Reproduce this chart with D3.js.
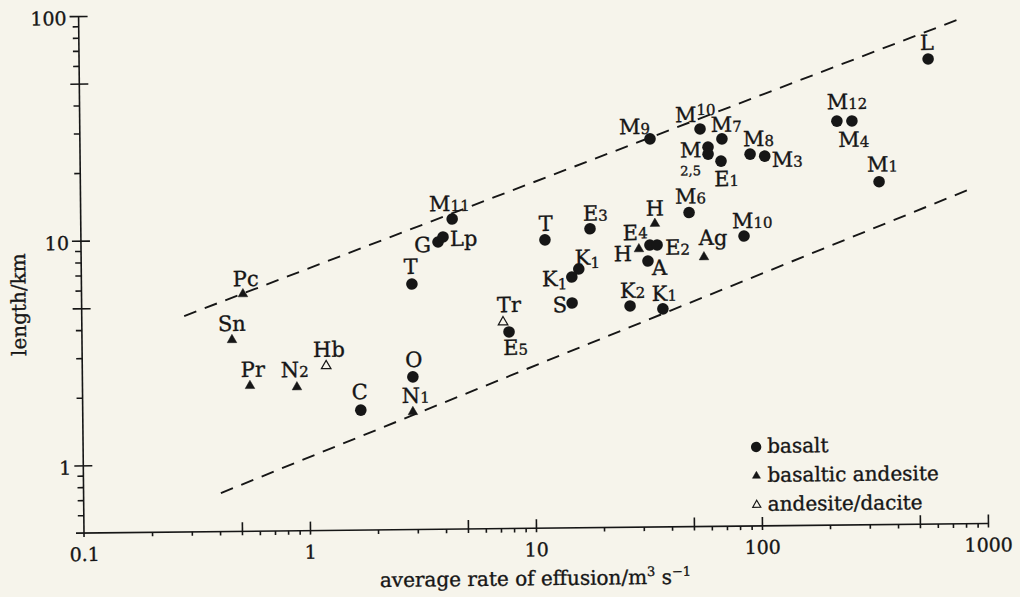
<!DOCTYPE html>
<html>
<head>
<meta charset="utf-8">
<script src="https://cdn.jsdelivr.net/npm/d3@7"></script>
<style>
  html, body { margin: 0; padding: 0; background: #f6f4eb; }
  svg text { font-family: "DejaVu Serif", serif; fill: #161616; stroke: #161616; stroke-width: 0.35px; }
</style>
</head>
<body>
<script>
// basalt flows (filled circles)
var basaltNames = ["L","M12","M4","M1","M10","M7","M9","M2,5","","E1","M8","M3","M6","M10","M11",
                   "G","Lp","T","T","E3","K1","K1","S","E4","E2","A","K2","K1","E5","O","C"];
var basaltRate = [571,224,261,342,55.5,69.3,33.3,60.1,60.1,68.5,92.2,107,49.2,85.9,4.40,
                  3.80,4.00,2.90,11.3,17.9,15.9,14.8,14.8,32.9,35.4,32.2,26.7,37.3,7.76,2.90,1.70];
var basaltLength = [58.8,31.4,31.4,16.8,29.4,26.5,26.7,24.4,22.7,21.1,22.6,22.1,12.5,9.77,12.0,
                    9.50,9.99,6.19,9.59,10.7,7.09,6.54,5.01,9.00,9.00,7.64,4.83,4.67,3.75,2.39,1.71];

// basaltic andesite (filled triangles)
var bAndesiteNames = ["Pc","Sn","Pr","N2","N1","H","H","Ag"];
var bAndesiteRate = [0.518,0.461,0.551,0.889,2.89,34.7,29.4,57.0];
var bAndesiteLength = [5.69,3.56,2.22,2.18,1.67,11.2,8.65,7.91];

// andesite / dacite (open triangles)
var andesiteNames = ["Hb","Tr"];
var andesiteRate = [1.20,7.31];
var andesiteLength = [2.70,4.15];

// dashed envelope lines [rate, length]
var upperLine = [[0.284,4.57],[811,89.1]];
var lowerLine = [[0.405,0.742],[890,15.6]];

var legendLabels = ["basalt","basaltic andesite","andesite/dacite"];
var xTickLabels = [0.1,1,10,100,1000];
var yTickLabels = [1,10,100];

// label placement: dx, dy from the mark, anchor, shift of the small digits
var basaltLabelPos = [
  [-1,-9,"middle",0],[-10,-12,"start",0],[-14,26,"start",0],[-12,-10,"start",0],
  [-25,-7,"start",-7],[-11,-7,"start",0],[-31,-5,"start",0],[-28,10,"start",0],
  [0,0,"start",0],[-7,25,"start",0],[-7,-8,"start",0],[7,11,"start",0],
  [-14,-9,"start",0],[-12,-8,"start",0],[-23,-8,"start",0],[-7,10,"end",0],
  [7,9,"start",0],[-1,-10,"middle",0],[1,-9,"middle",0],[-7,-8,"start",0],
  [-4,-4,"start",3],[-30,9,"start",3],[-5,9,"end",0],[-27,-5,"start",-2],
  [8,10,"start",0],[4,14,"start",0],[-10,-8,"start",0],[-11,-8,"start",0],
  [-6,23,"start",0],[1,-10,"middle",0],[-1,-11,"middle",0]
];
var bAndesiteLabelPos = [
  [-10,-8,"start",0],[-14,-9,"start",0],[-9,-9,"start",0],[-16,-10,"start",0],
  [-11,-9,"start",0],[0,-8,"middle",0],[-7,12,"end",0],[-5,-12,"start",0]
];
var andesiteLabelPos = [[-13,-9,"start",0],[-6,-10,"start",0]];

var ink = "#161616", paper = "#f6f4eb";

function rows(names, rate, len, pos, type) {
  return names.map(function(n,i) {
    return {name:n, rate:rate[i], len:len[i], pos:pos[i], type:type};
  });
}
var points = rows(basaltNames, basaltRate, basaltLength, basaltLabelPos, "basalt")
  .concat(rows(bAndesiteNames, bAndesiteRate, bAndesiteLength, bAndesiteLabelPos, "bandesite"))
  .concat(rows(andesiteNames, andesiteRate, andesiteLength, andesiteLabelPos, "andesite"));

var svg = d3.select("body").append("svg")
  .attr("width", 1020).attr("height", 597);
svg.append("rect").attr("width",1020).attr("height",597).attr("fill",paper);

// the printed page sits slightly skewed in the scan
var g = svg.append("g").attr("transform","rotate(-0.6,84,533)");

var x = d3.scaleLog().domain([0.1,1000]).range([84,988]);
var y = d3.scaleLog().domain([0.5,100]).range([533,16]);

function minorTicks(lo, hi) {
  var out = [];
  for (var d = lo; d < hi; d *= 10) {
    [2,3,4,6,7,8,9].forEach(function(k){ if (k*d < hi) out.push(k*d); });
  }
  return out;
}

// y axis
var yg = g.append("g").attr("transform","translate(84,0)");
yg.append("g").call(d3.axisLeft(y).tickValues(minorTicks(0.1,100).filter(function(d){return d>0.5;}))
    .tickSize(6).tickFormat(""))
  .call(function(a){ a.select(".domain").remove(); });
var yMajor = yg.append("g").call(d3.axisLeft(y).tickValues([1,5,10,50,100]).tickSize(9)
    .tickFormat(function(d){ return yTickLabels.indexOf(d) >= 0 ? d : ""; }));
yMajor.select(".domain").remove();
yMajor.selectAll("line").attr("x1", 9);
yMajor.selectAll("text").attr("x",-12).attr("dy","0.45em")
  .style("font-size","19px").style("font-family","DejaVu Serif");
yg.append("line").attr("x1",0).attr("x2",0).attr("y1",y(100)).attr("y2",537);

// x axis
var xg = g.append("g").attr("transform","translate(0,533)");
xg.append("g").call(d3.axisBottom(x).tickValues(minorTicks(0.1,1000).filter(function(d){
    return [5,50,500].indexOf(d) < 0; })).tickSize(4).tickFormat(""))
  .call(function(a){ a.select(".domain").remove(); });
var xMajor = xg.append("g").call(d3.axisBottom(x).tickValues([0.5,1,5,10,50,100,500,1000]).tickSize(4)
    .tickFormat(""));
xMajor.select(".domain").remove();
xMajor.selectAll("line").attr("y1",-9);
xg.append("g").call(d3.axisBottom(x).tickValues(xTickLabels).tickSize(0)
    .tickFormat(function(d){ return d; }))
  .call(function(a){ a.select(".domain").remove(); })
  .selectAll("text").attr("y",28).attr("dy",0)
  .style("font-size","19px").style("font-family","DejaVu Serif");
xg.append("line").attr("x1",76).attr("x2",x(1000)).attr("y1",0).attr("y2",0);

g.selectAll(".tick line").attr("stroke",ink).attr("stroke-width",1.4);
g.selectAll("g > line").attr("stroke",ink).attr("stroke-width",1.6);
g.selectAll(".tick text").attr("fill",ink);

// axis titles
var xt = g.append("text").attr("x",535).attr("y",590).attr("text-anchor","middle")
  .style("font-size","20px");
xt.append("tspan").text("average rate of effusion/m");
xt.append("tspan").attr("dy",-8).style("font-size","13px").text("3");
xt.append("tspan").attr("dy",8).text(" s");
xt.append("tspan").attr("dy",-8).style("font-size","13px").text("\u22121");

g.append("text").attr("transform","translate(28,304) rotate(-90)")
  .attr("text-anchor","middle").style("font-size","20px").text("length/km");

// dashed envelope
var line = d3.line().x(function(d){return x(d[0]);}).y(function(d){return y(d[1]);});
[upperLine, lowerLine].forEach(function(l) {
  g.append("path").attr("d", line(l)).attr("fill","none").attr("stroke",ink)
    .attr("stroke-width",1.9).attr("stroke-dasharray","13,9");
});

// marks
var tri = d3.symbol().type(d3.symbolTriangle);
function drawMark(sel, type, big) {
  if (type === "basalt") {
    sel.append("circle").attr("r", big ? 5.8 : 5.2).attr("fill", ink);
  } else {
    sel.append("path").attr("d", tri.size(big ? 40 : 28)())
      .attr("fill", type === "bandesite" ? ink : paper)
      .attr("stroke", ink).attr("stroke-width", type === "bandesite" ? 0.5 : 1.2);
  }
}

var pts = g.selectAll("g.pt").data(points).enter().append("g").attr("class","pt")
  .attr("transform", function(d){ return "translate(" + x(d.rate) + "," + y(d.len) + ")"; });
pts.each(function(d){ drawMark(d3.select(this), d.type, true); });

// labels: letters big, digits small
pts.filter(function(d){ return d.name !== ""; }).each(function(d) {
  var m = d.name.match(/^([A-Za-z]+)(.*)$/);
  var sel = d3.select(this);
  var t = sel.append("text")
    .attr("x", d.pos[0]).attr("y", d.pos[1]).attr("text-anchor", d.pos[2])
    .style("font-size","21px");
  t.append("tspan").text(m[1]);
  if (m[2].indexOf(",") >= 0) {
    // second line under the letter
    sel.append("text").attr("x", d.pos[0]).attr("y", d.pos[1] + 18)
      .style("font-size","13px").text(m[2]);
  } else if (m[2]) {
    t.append("tspan").attr("dy", d.pos[3]).style("font-size","15px").text(m[2]);
  }
});

// legend
var legTypes = ["basalt","bandesite","andesite"];
var leg = g.selectAll("g.leg").data(legendLabels).enter().append("g").attr("class","leg")
  .attr("transform", function(d,i){ return "translate(757," + (454 + i*29) + ")"; });
leg.each(function(d,i){ drawMark(d3.select(this), legTypes[i], false); });
leg.append("text").attr("x",11).attr("y",6).style("font-size","20px").text(function(d){ return d; });
</script>
</body>
</html>
